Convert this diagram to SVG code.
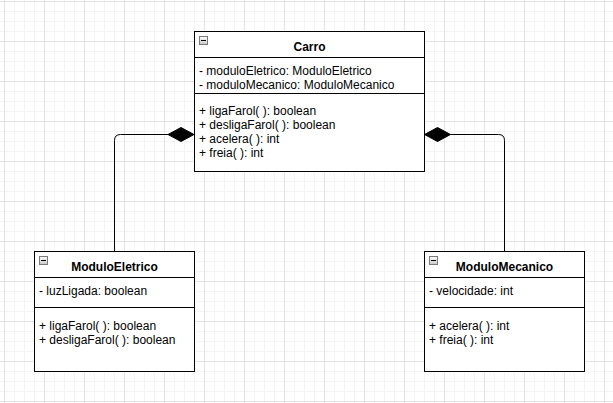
<svg xmlns="http://www.w3.org/2000/svg" width="613" height="403" viewBox="0 0 613 403">
<defs>
<pattern id="grid" x="4" y="1" width="40" height="40" patternUnits="userSpaceOnUse">
<path d="M10.5 0V40M20.5 0V40M30.5 0V40M0 10.5H40M0 20.5H40M0 30.5H40" stroke="#f4f4f4" stroke-width="1" fill="none"/>
<path d="M0.5 0V40M0 0.5H40" stroke="#e4e4e4" stroke-width="1" fill="none"/>
</pattern>
<linearGradient id="ig" x1="0" y1="0" x2="0" y2="1">
<stop offset="0" stop-color="#ffffff"/>
<stop offset="1" stop-color="#c8c8c8"/>
</linearGradient>
<g id="icon">
<rect x="0.5" y="0.5" width="8" height="8" fill="url(#ig)" stroke="#7a7a7a" stroke-width="1"/>
<path d="M2 4.5H7" stroke="#000" stroke-width="1"/>
</g>
</defs>
<style>
.box{fill:#fff;stroke:#000;stroke-width:1}
.ln{stroke:#000;stroke-width:1;fill:none}
text{font-family:"Liberation Sans",Arial,sans-serif;font-size:12px;fill:#000}
.t{font-weight:bold;text-anchor:middle}
.conn{stroke:#000;stroke-width:1;fill:none}
.dia{fill:#000;stroke:#000;stroke-width:1}
</style>
<rect width="613" height="403" fill="#fff"/>
<rect width="613" height="403" fill="url(#grid)"/>
<g id="connectors">
<path class="conn" d="M114.5 251V140.5Q114.5 134.5 120.5 134.5H168"/>
<path class="dia" d="M194 134.5L181 127.5L168 134.5L181 141.5Z"/>
<path class="conn" d="M504.5 251V140.5Q504.5 134.5 498.5 134.5H450"/>
<path class="dia" d="M424.5 134.5L437.5 127.5L450.5 134.5L437.5 141.5Z"/>
</g>
<g id="Carro">
<rect class="box" x="194.5" y="31.5" width="230" height="140"/>
<path class="ln" d="M194.5 57.5H424.5M194.5 93.5H424.5"/>
<use href="#icon" x="199" y="36"/>
<text class="t" x="309.5" y="50.5">Carro</text>
<text x="199" y="74.5">- moduloEletrico: ModuloEletrico</text>
<text x="199" y="88.5">- moduloMecanico: ModuloMecanico</text>
<text x="199" y="114.5">+ ligaFarol( ): boolean</text>
<text x="199" y="128.5">+ desligaFarol( ): boolean</text>
<text x="199" y="142.5">+ acelera( ): int</text>
<text x="199" y="156.5">+ freia( ): int</text>
</g>
<g id="ModuloEletrico">
<rect class="box" x="34.5" y="251.5" width="160" height="120"/>
<path class="ln" d="M34.5 277.5H194.5M34.5 307.5H194.5"/>
<use href="#icon" x="39" y="256"/>
<text class="t" x="114.5" y="270.5">ModuloEletrico</text>
<text x="39" y="294.5">- luzLigada: boolean</text>
<text x="39" y="329.5">+ ligaFarol( ): boolean</text>
<text x="39" y="343.5">+ desligaFarol( ): boolean</text>
</g>
<g id="ModuloMecanico">
<rect class="box" x="424.5" y="251.5" width="160" height="120"/>
<path class="ln" d="M424.5 277.5H584.5M424.5 307.5H584.5"/>
<use href="#icon" x="429" y="256"/>
<text class="t" x="504.5" y="270.5">ModuloMecanico</text>
<text x="429" y="294.5">- velocidade: int</text>
<text x="429" y="329.5">+ acelera( ): int</text>
<text x="429" y="343.5">+ freia( ): int</text>
</g>
</svg>
